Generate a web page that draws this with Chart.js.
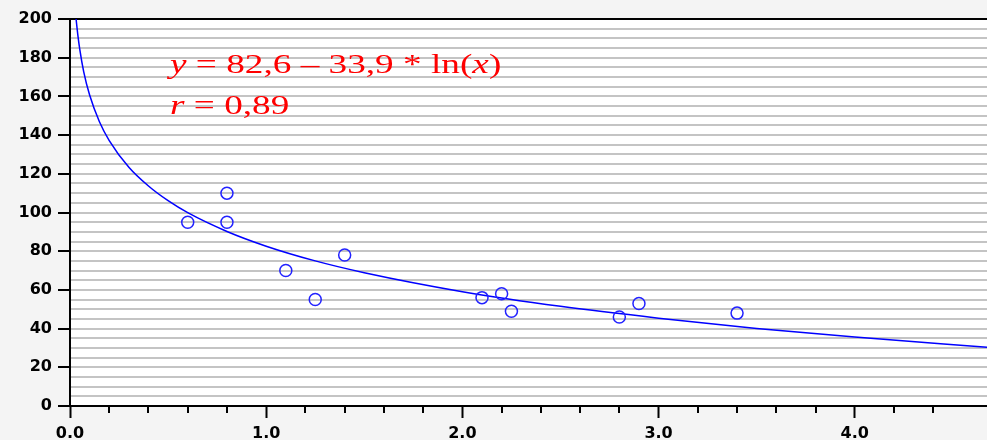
<!DOCTYPE html>
<html>
<head>
<meta charset="utf-8">
<script src="https://cdn.jsdelivr.net/npm/chart.js@4.4.1/dist/chart.umd.min.js"></script>
<style>
    body { margin: 0; background: #f4f4f4; }
    #wrap { position: relative; width: 987px; height: 440px; overflow: hidden; }
    #equation {
        position: absolute;
        left: 170px;
        top: 43px;
        font-family: "Liberation Serif", "Times New Roman", serif;
        font-size: 28px;
        line-height: 41px;
        color: #ff0000;
        white-space: nowrap;
        transform: scaleX(1.33);
        transform-origin: 0 0;
    }
</style>
</head>
<body>
<div id="wrap">
    <canvas id="fitChart" width="987" height="440"></canvas>
    <div id="equation"><i>y</i> = 82,6 – 33,9 * ln(<i>x</i>)<br><i>r</i> = 0,89</div>
</div>
<script>
// Measured points
const pointX = [0.6, 0.8, 0.8, 1.1, 1.25, 1.4, 2.1, 2.2, 2.25, 2.8, 2.9, 3.4];
const pointY = [95, 110, 95, 70, 55, 78, 56, 58, 49, 46, 53, 48];

// Fitted curve
const fitX = [0.031, 0.04, 0.05, 0.07, 0.1, 0.15, 0.2, 0.3, 0.4, 0.5, 0.6, 0.8, 1.0, 1.25, 1.5, 2.0, 2.5, 3.0, 3.5, 4.0, 4.68];
const fitY = [200, 191.7, 184.2, 172.7, 160.7, 146.9, 137.2, 123.4, 113.7, 106.1, 99.9, 90.2, 82.6, 75.0, 68.9, 59.1, 51.5, 45.4, 40.1, 35.6, 30.3];

// Axis ranges
const xMin = 0;
const xMax = 4.674;
const yMin = 0;
const yMax = 200;

document.addEventListener('DOMContentLoaded', function() {
    const isMultiple = (v, step) => Math.abs(v / step - Math.round(v / step)) < 1e-6;

    // White plot area + minor ticks on the x axis
    const plotPlugin = {
        id: 'plotPlugin',
        beforeDraw(chart) {
            const a = chart.chartArea;
            const ctx = chart.ctx;
            ctx.save();
            ctx.fillStyle = '#ffffff';
            ctx.fillRect(a.left, a.top, a.right - a.left, a.bottom - a.top);
            ctx.restore();
        },
        afterDraw(chart) {
            const xs = chart.scales.x;
            const ctx = chart.ctx;
            const bottom = chart.chartArea.bottom;
            ctx.save();
            ctx.strokeStyle = '#000000';
            ctx.lineWidth = 2;
            xs.ticks.forEach(t => {
                if (!isMultiple(t.value, 0.2) || isMultiple(t.value, 1)) return;
                const px = Math.round(xs.getPixelForValue(t.value));
                ctx.beginPath();
                ctx.moveTo(px, bottom);
                ctx.lineTo(px, bottom + 7);
                ctx.stroke();
            });
            ctx.restore();
        }
    };

    const tickFont = { family: '"DejaVu Sans", Verdana, sans-serif', size: 16, weight: 'bold' };

    new Chart(document.getElementById('fitChart'), {
        type: 'scatter',
        data: {
            datasets: [
                {
                    data: pointX.map((x, i) => ({ x: x, y: pointY[i] })),
                    pointStyle: 'circle',
                    pointRadius: 6,
                    pointBorderWidth: 1.5,
                    pointBorderColor: '#2222ff',
                    pointBackgroundColor: 'rgba(0,0,0,0)',
                    showLine: false
                },
                {
                    data: fitX.map((x, i) => ({ x: x, y: fitY[i] })),
                    showLine: true,
                    pointRadius: 0,
                    borderColor: '#0000ff',
                    borderWidth: 1.5,
                    cubicInterpolationMode: 'monotone'
                }
            ]
        },
        options: {
            responsive: false,
            animation: false,
            layout: { autoPadding: false, padding: { top: 19, right: 0, left: 0, bottom: 0 } },
            plugins: {
                legend: { display: false },
                tooltip: { enabled: false }
            },
            scales: {
                x: {
                    type: 'linear',
                    min: xMin,
                    max: xMax,
                    afterFit: scale => {
                        scale.height = 34;
                        scale.paddingRight = 0;
                        scale.paddingLeft = 0;
                    },
                    border: { color: '#000000', width: 2 },
                    grid: {
                        drawOnChartArea: false,
                        tickLength: 12,
                        tickWidth: 2,
                        tickColor: ctx => (ctx.tick && isMultiple(ctx.tick.value, 1)) ? '#000000' : 'rgba(0,0,0,0)'
                    },
                    ticks: {
                        stepSize: 0.2,
                        autoSkip: false,
                        maxRotation: 0,
                        padding: 6,
                        color: '#000000',
                        font: tickFont,
                        callback: v => isMultiple(v, 1) ? v.toFixed(1) : ''
                    }
                },
                y: {
                    min: yMin,
                    max: yMax,
                    afterFit: scale => { scale.width = 70; },
                    border: { color: '#000000', width: 2 },
                    grid: {
                        lineWidth: 2,
                        color: ctx => {
                            if (!ctx.tick) return '#c4c4c4';
                            if (ctx.tick.value === yMax) return '#000000';
                            if (ctx.tick.value === yMin) return 'rgba(0,0,0,0)';
                            return '#c4c4c4';
                        },
                        tickLength: 12,
                        tickWidth: 2,
                        tickColor: ctx => (ctx.tick && isMultiple(ctx.tick.value, 20)) ? '#000000' : 'rgba(0,0,0,0)'
                    },
                    ticks: {
                        stepSize: 5,
                        autoSkip: false,
                        padding: 6,
                        color: '#000000',
                        font: tickFont,
                        callback: v => isMultiple(v, 20) ? String(v) : ''
                    }
                }
            }
        },
        plugins: [plotPlugin]
    });
});
</script>
</body>
</html>
